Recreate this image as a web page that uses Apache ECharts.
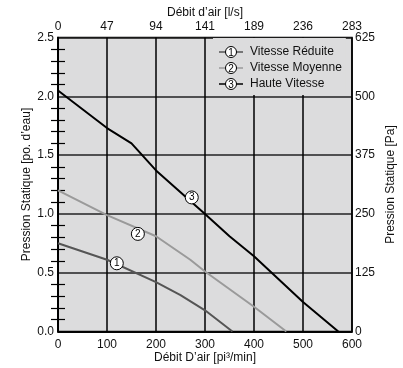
<!DOCTYPE html>
<html>
<head>
<meta charset="utf-8">
<script src="https://cdn.jsdelivr.net/npm/echarts@6/dist/echarts.min.js"></script>
<style>html,body{margin:0;padding:0;background:#fff}#c{width:403px;height:368px}</style>
</head>
<body>
<div id="c"></div>
<script>
// Data (cfm, inches of water)
var seriesNames = ['Vitesse Réduite', 'Vitesse Moyenne', 'Haute Vitesse'];
var reduite = [[0,0.75],[100,0.61],[200,0.42],[250,0.31],[300,0.18],[356,0]];
var moyenne = [[0,1.2],[100,0.99],[200,0.81],[270,0.61],[300,0.51],[400,0.21],[466,0]];
var haute = [[0,2.05],[100,1.73],[150,1.60],[200,1.37],[300,1.0],[350,0.81],[400,0.64],[500,0.25],[572,0]];
var markerPoints = [[120,0.58],[163,0.83],[273,1.14]];
var markerLabels = ['1','2','3'];
var lsLabels = ['0','47','94','141','189','236','283'];
var paLabels = ['0','125','250','375','500','625'];
var colors = ['#555555','#9a9a9a','#000000'];

var FONT = 'Liberation Sans';
function icon(c, n) {
  var svg = '<svg xmlns="http://www.w3.org/2000/svg" width="24" height="14">' +
    '<line x1="0" y1="7" x2="24" y2="7" stroke="' + c + '" stroke-width="1.5"/>' +
    '<circle cx="12" cy="7" r="5.5" fill="white" stroke="black" stroke-width="1"/>' +
    '<text x="12" y="10.6" font-family="Liberation Sans, Arial, sans-serif" font-size="10" text-anchor="middle" fill="black">' + n + '</text></svg>';
  return 'image://data:image/svg+xml;charset=utf-8,' + encodeURIComponent(svg);
}
var lineData = [reduite, moyenne, haute];
var series = [];
for (var i = 0; i < 3; i++) {
  series.push({
    name: seriesNames[i], type: 'line', data: lineData[i], symbol: 'none',
    lineStyle: {color: colors[i], width: 2}, itemStyle: {color: colors[i]}, z: 3, silent: true
  });
}
for (var j = 0; j < 3; j++) {
  series.push({
    name: 'm' + j, type: 'scatter', data: [markerPoints[j]], symbol: 'circle', symbolSize: 13,
    itemStyle: {color: '#fff', borderColor: '#000', borderWidth: 1, opacity: 1}, z: 5,
    label: {show: true, position: 'inside', formatter: markerLabels[j], color: '#000', fontSize: 10, fontFamily: FONT}
  });
}
var nameStyle = {fontSize: 12, color: '#111', fontFamily: FONT};
var chart = echarts.init(document.getElementById('c'));
chart.setOption({
  animation: false,
  textStyle: {fontFamily: FONT},
  grid: {left: 58, right: 51, top: 37.5, bottom: 36.5, outerBoundsMode: 'none', containLabel: false,
    show: true, backgroundColor: '#dcdcdd', borderColor: '#000', borderWidth: 1.5},
  legend: {
    orient: 'vertical', left: 213, top: 38, padding: [7, 4, 4, 6], itemGap: 2,
    itemWidth: 24, itemHeight: 14, backgroundColor: '#dcdcdd', z: 4,
    textStyle: {fontSize: 12, color: '#111', fontFamily: FONT, padding: [0, 0, 0, 2]},
    data: seriesNames.map(function (n, k) { return {name: n, icon: icon(colors[k], k + 1)}; })
  },
  xAxis: [{
    type: 'value', position: 'bottom', min: 0, max: 600, interval: 100,
    name: 'Débit D\u2019air [pi³/min]', nameLocation: 'middle', nameGap: 20, nameMoveOverlap: false,
    nameTextStyle: nameStyle,
    axisLine: {show: true, lineStyle: {color: '#000', width: 1.5}},
    axisTick: {show: false},
    axisLabel: {fontSize: 12, color: '#111', margin: 7},
    splitLine: {show: true, lineStyle: {color: '#000', width: 1.5}}
  }, {
    type: 'value', position: 'top', min: 0, max: 600, interval: 100,
    name: 'Débit d\u2019air [l/s]', nameLocation: 'middle', nameGap: 19, nameMoveOverlap: false,
    nameTextStyle: nameStyle,
    axisLine: {show: true, lineStyle: {color: '#000', width: 1.5}},
    axisTick: {show: false},
    axisLabel: {fontSize: 12, color: '#111', margin: 5, formatter: function (v) { return lsLabels[Math.round(v / 100)]; }},
    splitLine: {show: false}
  }],
  yAxis: [{
    type: 'value', position: 'left', min: 0, max: 2.5, interval: 0.5,
    name: 'Pression Statique [po. d\u2019eau]', nameLocation: 'middle', nameGap: 25, nameMoveOverlap: false,
    nameTextStyle: nameStyle,
    axisLine: {show: true, lineStyle: {color: '#000', width: 1.5}},
    axisTick: {show: false, inside: true, length: 7},
    minorTick: {show: true, splitNumber: 5, length: 7, lineStyle: {color: '#000', width: 1.2}},
    axisLabel: {fontSize: 12, color: '#111', margin: 4, formatter: function (v) { return v.toFixed(1); }},
    splitLine: {show: true, lineStyle: {color: '#222', width: 1.5}}
  }, {
    type: 'value', position: 'right', min: 0, max: 2.5, interval: 0.5,
    name: 'Pression Statique [Pa]', nameLocation: 'middle', nameGap: 33, nameMoveOverlap: false,
    nameTextStyle: nameStyle,
    axisLine: {show: true, lineStyle: {color: '#000', width: 1.5}},
    axisTick: {show: false, inside: true, length: 7},
    minorTick: {show: true, splitNumber: 5, length: 7, lineStyle: {color: '#000', width: 1.2}},
    axisLabel: {fontSize: 12, color: '#111', margin: 3, formatter: function (v) { return paLabels[Math.round(v / 0.5)]; }},
    splitLine: {show: false}
  }],
  series: series
});
</script>
</body>
</html>
